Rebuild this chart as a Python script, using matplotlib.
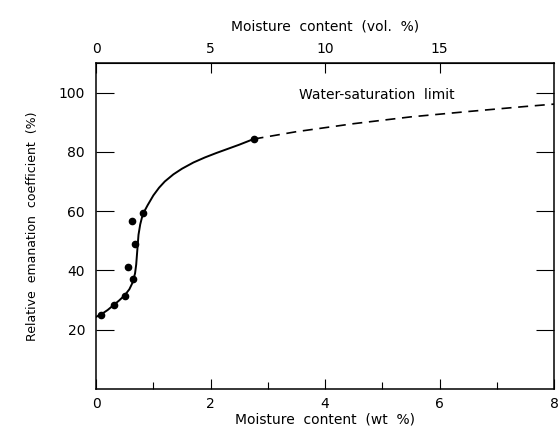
import matplotlib
matplotlib.use("Agg")
import matplotlib.pyplot as plt

# datos medidos (wt %, coeficiente relativo %)
puntos_x = [0.08, 0.31, 0.51, 0.65, 0.55, 0.68, 0.62, 0.82, 2.75]
puntos_y = [25.0, 28.4, 31.5, 37.1, 41.1, 48.8, 56.7, 59.2, 84.3]

# curva ajustada (tramo continuo)
curva_x = [0.0, 0.1, 0.2, 0.3, 0.4, 0.5, 0.58, 0.64, 0.68, 0.70, 0.72, 0.74, 0.77, 0.80,
           0.85, 0.9, 1.0, 1.1, 1.2, 1.35, 1.5, 1.7, 1.9, 2.1, 2.3, 2.5, 2.75]
curva_y = [24.3, 25.3, 26.6, 28.2, 29.8, 31.6, 33.6, 36.0, 39.0, 42.0, 47.0, 52.0, 55.5, 57.8,
           60.2, 62.0, 65.3, 67.9, 70.0, 72.4, 74.3, 76.4, 78.1, 79.6, 81.0, 82.4, 84.3]

# extrapolacion hasta el limite de saturacion (discontinua)
extra_x = [2.75, 3.5, 4.5, 5.5, 6.5, 7.5, 8.0]
extra_y = [84.3, 86.8, 89.5, 91.8, 93.6, 95.3, 96.1]

fig = plt.figure(figsize=(5.59, 4.34), dpi=100)
ax = fig.add_axes([0.172, 0.104, 0.819, 0.751])

ax.plot(curva_x, curva_y, color="black", linewidth=1.4)
ax.plot(extra_x, extra_y, color="black", linewidth=1.2, linestyle=(0, (6, 4)))
ax.errorbar(puntos_x, puntos_y, xerr=0.04, fmt="o", color="black",
            markersize=4.5, elinewidth=1.2, capsize=0)

ax.text(3.55, 99.2, "Water-saturation  limit", fontsize=10, va="center", ha="left")

ax.set_xlim(0, 8)
ax.set_ylim(0, 110)
ax.set_xticks([0, 2, 4, 6, 8])
ax.set_xticks([1, 3, 5, 7], minor=True)
ax.set_yticks([20, 40, 60, 80, 100])
ax.tick_params(axis="x", direction="in", length=7, width=0.8, labelsize=10, pad=6)
ax.tick_params(axis="x", which="minor", direction="in", length=5, width=0.8)
ax.tick_params(axis="y", direction="in", length=13, width=0.8, labelsize=10,
               right=True, pad=8)
for s in ax.spines.values():
    s.set_linewidth(1.1)

ax.set_xlabel("Moisture  content  (wt  %)", fontsize=10, labelpad=1)
ax.set_ylabel("Relative  emanation  coefficient  (%)", fontsize=9, labelpad=14)

arriba = ax.secondary_xaxis("top", functions=(lambda x: x * 2.5, lambda v: v / 2.5))
arriba.set_xticks([0, 5, 10, 15])
arriba.tick_params(direction="in", length=7, width=0.8, labelsize=10, pad=5)
arriba.set_xlabel("Moisture  content  (vol.  %)", fontsize=10, labelpad=8)

plt.savefig("out.png", dpi=100)
plt.close()
